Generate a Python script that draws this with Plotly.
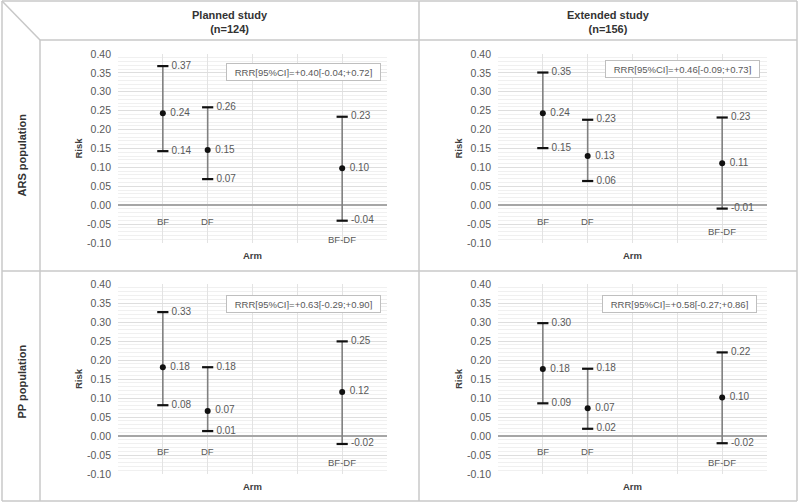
import plotly.graph_objects as go

# ---------------- data ----------------
arms = ["BF", "DF", "BF-DF"]
arm_pos = [1, 2, 5]          # scatter x-values of the three arms (axis runs 0..6)

col_titles = ["Planned study<br>(n=124)", "Extended study<br>(n=156)"]
row_titles = ["ARS population", "PP population"]

# Planned study, ARS population
planned_ars_point = [0.243, 0.146, 0.098]
planned_ars_low = [0.143, 0.069, -0.041]
planned_ars_high = [0.368, 0.259, 0.234]
# Extended study, ARS population
extended_ars_point = [0.243, 0.130, 0.111]
extended_ars_low = [0.151, 0.064, -0.009]
extended_ars_high = [0.351, 0.226, 0.232]
# Planned study, PP population
planned_pp_point = [0.181, 0.066, 0.116]
planned_pp_low = [0.081, 0.013, -0.021]
planned_pp_high = [0.326, 0.181, 0.249]
# Extended study, PP population
extended_pp_point = [0.176, 0.073, 0.101]
extended_pp_low = [0.086, 0.019, -0.019]
extended_pp_high = [0.297, 0.177, 0.220]

rrr_texts = [
    "RRR[95%CI]=+0.40[-0.04;+0.72]",
    "RRR[95%CI]=+0.46[-0.09;+0.73]",
    "RRR[95%CI]=+0.63[-0.29;+0.90]",
    "RRR[95%CI]=+0.58[-0.27;+0.86]",
]

y_ticks = [-0.10, -0.05, 0.00, 0.05, 0.10, 0.15, 0.20, 0.25, 0.30, 0.35, 0.40]

panels = [
    (planned_ars_point, planned_ars_low, planned_ars_high),
    (extended_ars_point, extended_ars_low, extended_ars_high),
    (planned_pp_point, planned_pp_low, planned_pp_high),
    (extended_pp_point, extended_pp_low, extended_pp_high),
]

# ---------------- layout helpers ----------------
W, H = 800, 503
FONT = "Liberation Sans, Arial, sans-serif"
GRAY_TXT = "#595959"
TABLE = "#c8c8c8"


def px(x):
    return x / W


def py(y):
    return 1 - y / H


x_domains = [(118, 387), (498, 767)]
y_domains = [(54, 243), (284, 474)]
rrr_pos = [(0.69, 0.905), (0.685, 0.92), (0.69, 0.895), (0.675, 0.895)]

fig = go.Figure()
annotations = []
shapes = []

CENTER = dict(xanchor="center", yanchor="middle", showarrow=False)

for i, (pt, lo, hi) in enumerate(panels):
    r, c = divmod(i, 2)
    sfx = "" if i == 0 else str(i + 1)
    xa, ya = "x" + sfx, "y" + sfx
    xd = x_domains[c]
    yd = y_domains[r]

    # vertical CI lines
    lx, ly = [], []
    for p, l, h in zip(arm_pos, lo, hi):
        lx += [p, p, None]
        ly += [l, h, None]
    fig.add_trace(go.Scatter(x=lx, y=ly, mode="lines", xaxis=xa, yaxis=ya,
                             line=dict(color="#808080", width=1.6),
                             hoverinfo="skip", showlegend=False))
    # caps with labels
    fig.add_trace(go.Scatter(x=arm_pos + arm_pos, y=lo + hi, mode="markers+text",
                             xaxis=xa, yaxis=ya,
                             marker=dict(symbol="line-ew", size=8,
                                         line=dict(color="#111111", width=2.2)),
                             text=[f" {v:.2f}" for v in lo + hi],
                             textposition="middle right",
                             textfont=dict(family=FONT, size=10, color=GRAY_TXT),
                             hoverinfo="skip", showlegend=False))
    # point estimates with labels
    fig.add_trace(go.Scatter(x=arm_pos, y=pt, mode="markers+text",
                             xaxis=xa, yaxis=ya,
                             marker=dict(symbol="circle", size=6, color="#111111"),
                             text=[f" {v:.2f}" for v in pt],
                             textposition="middle right",
                             textfont=dict(family=FONT, size=10, color=GRAY_TXT),
                             hoverinfo="skip", showlegend=False))

    axis_x = dict(domain=[px(xd[0]), px(xd[1])], range=[0, 6], anchor=ya,
                  tickvals=[1, 2, 3, 4, 5], showticklabels=False, ticks="",
                  showgrid=True, gridcolor="#e3e3e3", gridwidth=1, automargin=False,
                  zeroline=False, showline=False, fixedrange=True)
    axis_y = dict(domain=[py(yd[1]), py(yd[0])], range=[-0.1, 0.4], anchor=xa,
                  tickvals=y_ticks, ticktext=[f"{v:.2f}" for v in y_ticks],
                  tickfont=dict(family=FONT, size=10.5, color=GRAY_TXT),
                  ticks="", ticklabelstandoff=6, automargin=False,
                  showgrid=True, gridcolor="#dedede", gridwidth=1,
                  minor=dict(dtick=0.01, showgrid=True, gridcolor="#f0f0f0", gridwidth=1),
                  zeroline=True, zerolinecolor="#a6a6a6", zerolinewidth=1.6,
                  showline=False, fixedrange=True)
    fig.layout["xaxis" + sfx] = axis_x
    fig.layout["yaxis" + sfx] = axis_y

    # category labels under the zero line
    for k, (name, p) in enumerate(zip(arms, arm_pos)):
        ylab = -0.042 if k < 2 else min(-0.07, lo[k] - 0.05)
        annotations.append(dict(x=p, y=ylab, xref=xa, yref=ya, text=name, **CENTER,
                                font=dict(family=FONT, size=9.5, color=GRAY_TXT)))
    # RRR box
    annotations.append(dict(x=rrr_pos[i][0], y=rrr_pos[i][1],
                            xref=xa + " domain", yref=ya + " domain",
                            text=rrr_texts[i], **CENTER,
                            font=dict(family=FONT, size=9.5, color=GRAY_TXT),
                            bordercolor="#bfbfbf", borderwidth=1, borderpad=2.5,
                            bgcolor="white", width=148))
    # axis titles
    annotations.append(dict(x=0.5, y=0, xref=xa + " domain", yref=ya + " domain",
                            yshift=-12, text="<b>Arm</b>", **CENTER,
                            font=dict(family=FONT, size=9.5, color="#404040")))
    annotations.append(dict(x=0, y=0.5, xref=xa + " domain", yref=ya + " domain",
                            xshift=-40, text="<b>Risk</b>", textangle=-90, **CENTER,
                            font=dict(family=FONT, size=9.5, color="#404040")))

# table headers
for c, t in enumerate(col_titles):
    cx = (40 + 419) / 2 if c == 0 else (419 + 797) / 2
    annotations.append(dict(x=px(cx), y=py(21.5), xref="paper", yref="paper",
                            text=f"<b>{t}</b>", **CENTER,
                            font=dict(family=FONT, size=11, color="#333333")))
for r, t in enumerate(row_titles):
    cy = (40 + 271) / 2 if r == 0 else (271 + 500) / 2 - 4
    annotations.append(dict(x=px(21), y=py(cy), xref="paper", yref="paper",
                            text=f"<b>{t}</b>", textangle=-90, **CENTER,
                            font=dict(family=FONT, size=11, color="#333333")))

# table grid lines
def seg(x0, y0, x1, y1):
    shapes.append(dict(type="line", xref="paper", yref="paper",
                       x0=px(x0), y0=py(y0), x1=px(x1), y1=py(y1),
                       line=dict(color=TABLE, width=1.5), layer="below"))

seg(2, 1, 797, 1)        # top
seg(2, 1, 2, 501)        # left
seg(797, 1, 797, 501)    # right
seg(2, 501, 797, 501)    # bottom
seg(40, 40, 797, 40)     # header line
seg(40, 40, 40, 501)     # row-label column line
seg(419, 1, 419, 501)    # middle column
seg(40, 271, 797, 271)   # row divider
seg(40, 271, 2, 271)
seg(2, 1, 40, 40)        # diagonal

fig.update_layout(template="none", width=W, height=H,
                  margin=dict(l=0, r=0, t=0, b=0, pad=0, autoexpand=False),
                  paper_bgcolor="white", plot_bgcolor="white",
                  annotations=annotations, shapes=shapes, showlegend=False)

fig.write_html("out.html", config={"displayModeBar": False},
               post_script="document.body.style.margin='0';document.body.style.overflow='hidden';")
